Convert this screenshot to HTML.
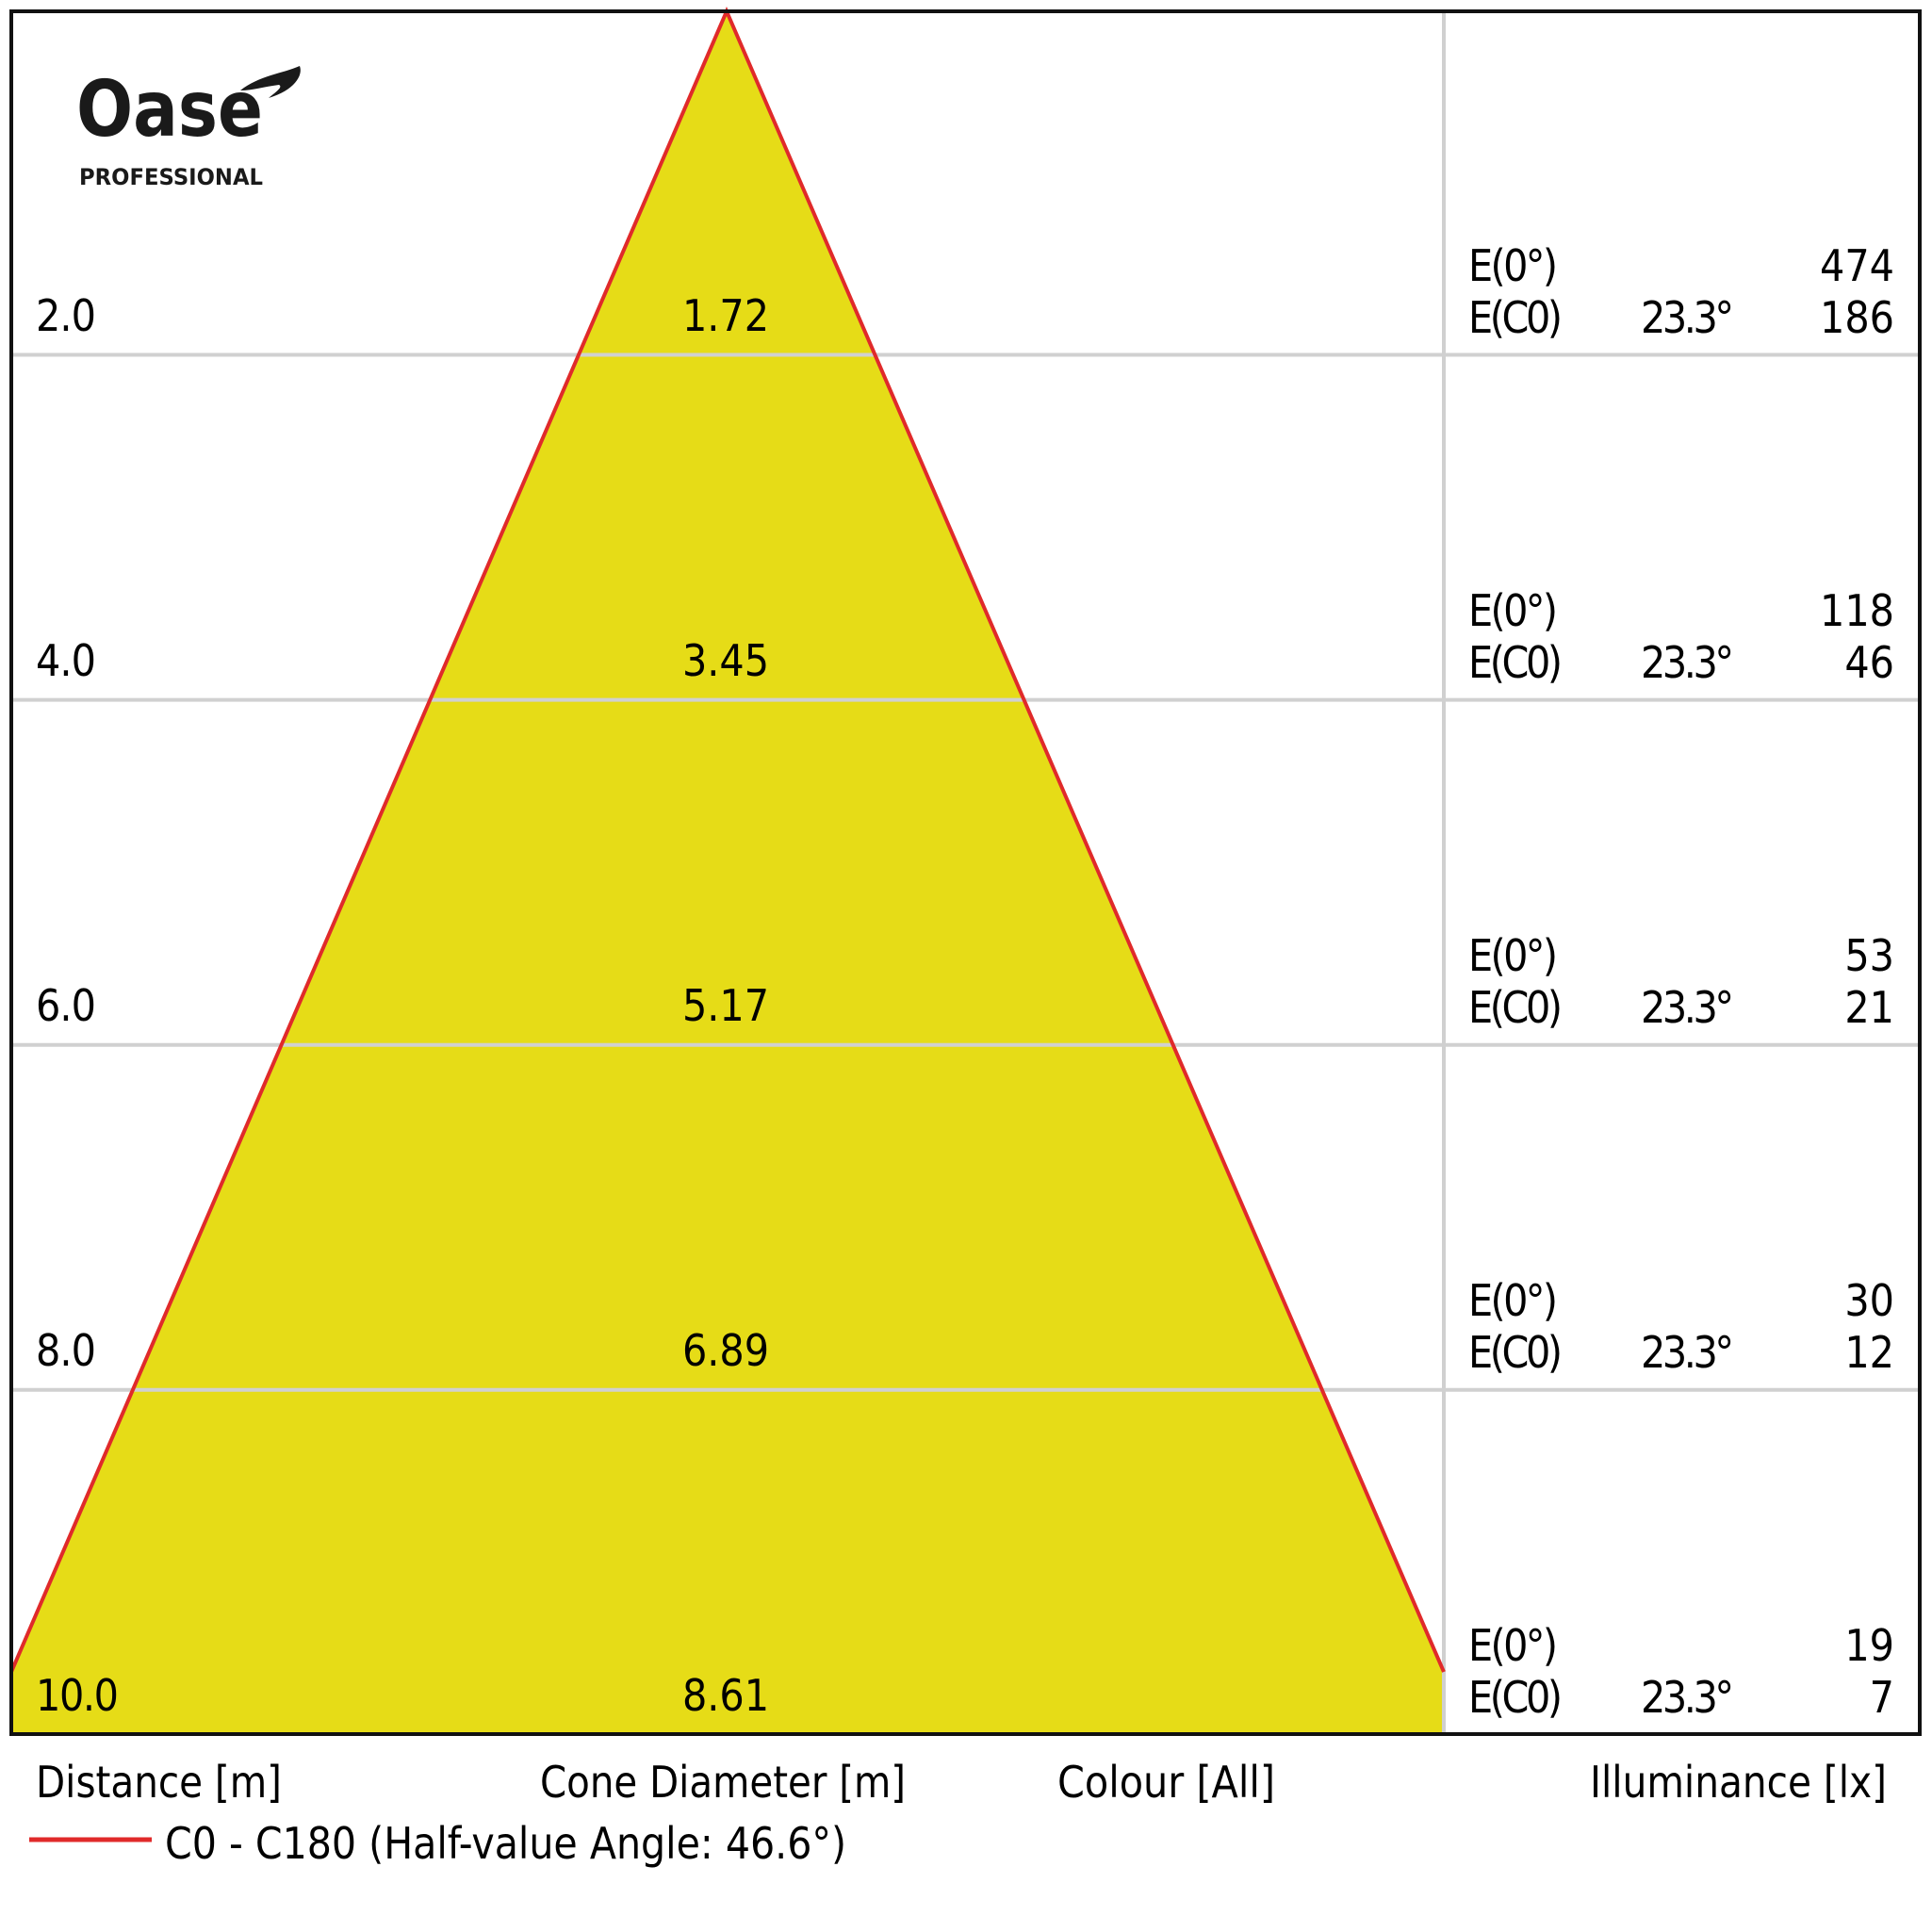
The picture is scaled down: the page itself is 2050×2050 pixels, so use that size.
<!DOCTYPE html>
<html><head><style>html,body{margin:0;padding:0;background:#fff}svg{display:block}</style></head>
<body>
<svg width="2050" height="2050" viewBox="0 0 2050 2050" xmlns="http://www.w3.org/2000/svg" font-family="'DejaVu Sans Condensed','Liberation Sans',sans-serif" font-size="46" fill="#000">
<rect x="12" y="12" width="2025" height="1828" fill="#fff"/>
<polygon points="771,12 1532,1774 1532,1840 12,1840 12,1774" fill="#E6DC17"/>
<g stroke="#d0d0d0" stroke-width="4">
<line x1="12" y1="376.5" x2="2037" y2="376.5"/>
<line x1="12" y1="742.6" x2="2037" y2="742.6"/>
<line x1="12" y1="1108.7" x2="2037" y2="1108.7"/>
<line x1="12" y1="1474.8" x2="2037" y2="1474.8"/>
<line x1="1532" y1="12" x2="1532" y2="1840"/>
</g>
<polyline points="12,1774 771,12 1532,1774" fill="none" stroke="#e02a2a" stroke-width="4"/>
<rect x="12" y="12" width="2025" height="1828" fill="none" stroke="#111" stroke-width="4"/>
<text x="81" y="144" font-family="'DejaVu Sans','Liberation Sans',sans-serif" font-weight="600" font-size="82" textLength="198" lengthAdjust="spacingAndGlyphs" fill="#1a1a1a">Oase</text>
<path d="M255,96 C275,80 300,78 318,70 C322,80 312,96 285,104 C295,96 300,92 296,90 C280,92 268,96 255,96Z" fill="#1a1a1a"/>
<text x="84" y="196" font-family="'DejaVu Sans','Liberation Sans',sans-serif" font-weight="bold" font-size="24" textLength="195" lengthAdjust="spacingAndGlyphs" fill="#1a1a1a">PROFESSIONAL</text>
<g>
<text x="38" y="351" textLength="64">2.0</text>
<text x="38" y="717" textLength="64">4.0</text>
<text x="38" y="1083" textLength="64">6.0</text>
<text x="38" y="1449" textLength="64">8.0</text>
<text x="38" y="1815" textLength="88">10.0</text>
</g>
<g text-anchor="middle">
<text x="770" y="351">1.72</text>
<text x="770" y="717">3.45</text>
<text x="770" y="1083">5.17</text>
<text x="770" y="1449">6.89</text>
<text x="770" y="1815">8.61</text>
</g>
<g>
<text x="1558" y="298" textLength="95">E(0°)</text><text x="1558" y="353" textLength="100">E(C0)</text><text x="1741" y="353" textLength="99">23.3°</text><text x="2010" y="298" text-anchor="end">474</text><text x="2010" y="353" text-anchor="end">186</text>
<text x="1558" y="664" textLength="95">E(0°)</text><text x="1558" y="719" textLength="100">E(C0)</text><text x="1741" y="719" textLength="99">23.3°</text><text x="2010" y="664" text-anchor="end">118</text><text x="2010" y="719" text-anchor="end">46</text>
<text x="1558" y="1030" textLength="95">E(0°)</text><text x="1558" y="1085" textLength="100">E(C0)</text><text x="1741" y="1085" textLength="99">23.3°</text><text x="2010" y="1030" text-anchor="end">53</text><text x="2010" y="1085" text-anchor="end">21</text>
<text x="1558" y="1396" textLength="95">E(0°)</text><text x="1558" y="1451" textLength="100">E(C0)</text><text x="1741" y="1451" textLength="99">23.3°</text><text x="2010" y="1396" text-anchor="end">30</text><text x="2010" y="1451" text-anchor="end">12</text>
<text x="1558" y="1762" textLength="95">E(0°)</text><text x="1558" y="1817" textLength="100">E(C0)</text><text x="1741" y="1817" textLength="99">23.3°</text><text x="2010" y="1762" text-anchor="end">19</text><text x="2010" y="1817" text-anchor="end">7</text>
</g>
<text x="38" y="1907" textLength="261" lengthAdjust="spacingAndGlyphs">Distance [m]</text>
<text x="573" y="1907" textLength="388" lengthAdjust="spacingAndGlyphs">Cone Diameter [m]</text>
<text x="1122" y="1907" textLength="231" lengthAdjust="spacingAndGlyphs">Colour [All]</text>
<text x="1687" y="1907" textLength="315" lengthAdjust="spacingAndGlyphs">Illuminance [lx]</text>
<line x1="31" y1="1952" x2="161" y2="1952" stroke="#e02a2a" stroke-width="5"/>
<text x="175" y="1972" textLength="723" lengthAdjust="spacingAndGlyphs">C0 - C180 (Half-value Angle: 46.6°)</text>
</svg>
</body></html>
